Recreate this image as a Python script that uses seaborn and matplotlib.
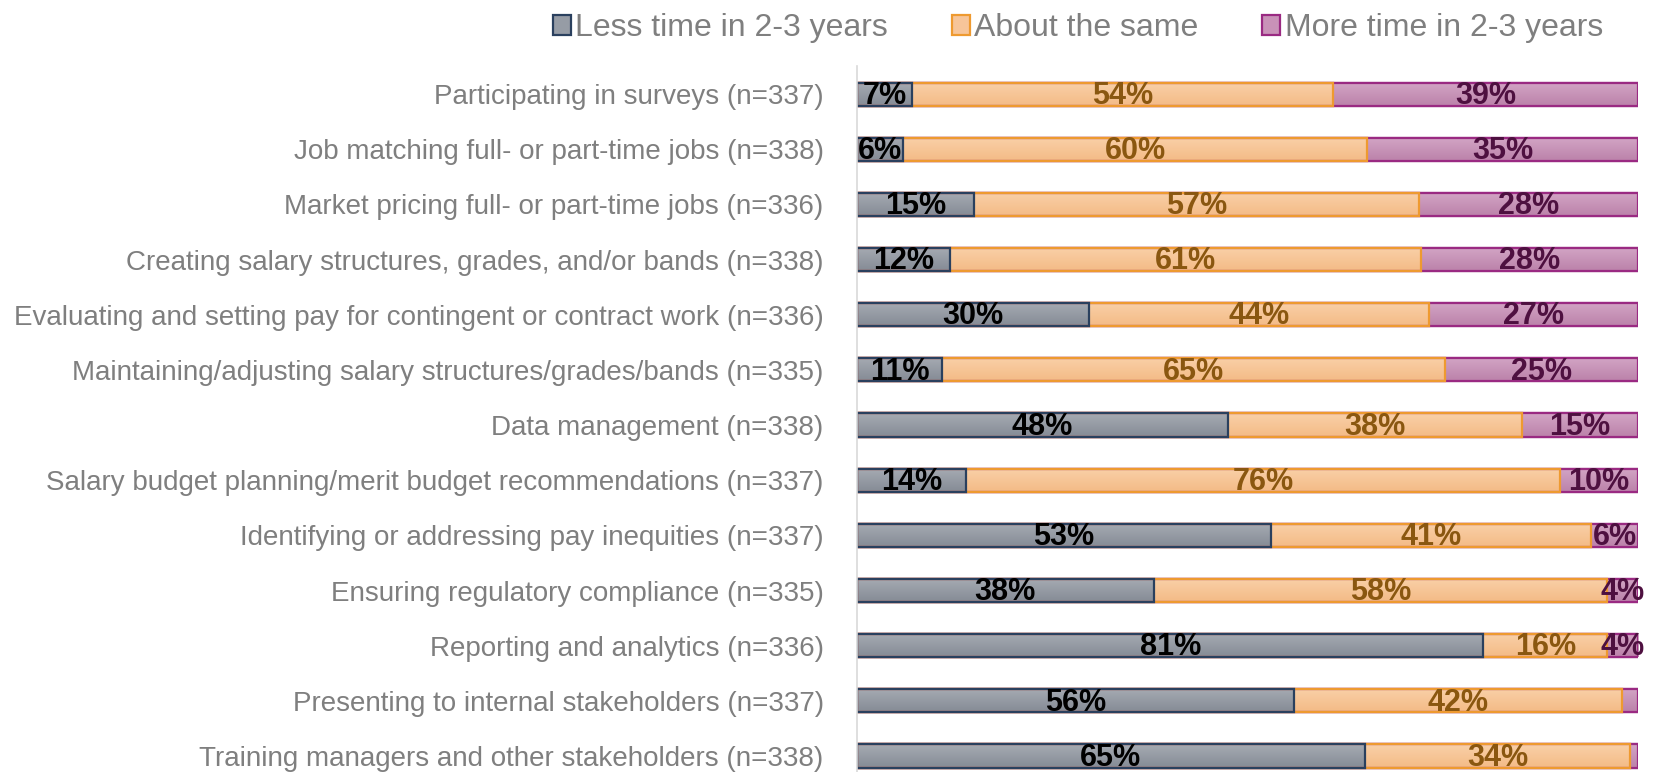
import pandas as pd
import numpy as np
import matplotlib.pyplot as plt
import seaborn as sns
from matplotlib.patches import Patch
from matplotlib.colors import LinearSegmentedColormap

tasks = [
    "Participating in surveys (n=337)",
    "Job matching full- or part-time jobs (n=338)",
    "Market pricing full- or part-time jobs (n=336)",
    "Creating salary structures, grades, and/or bands (n=338)",
    "Evaluating and setting pay for contingent or contract work (n=336)",
    "Maintaining/adjusting salary structures/grades/bands (n=335)",
    "Data management (n=338)",
    "Salary budget planning/merit budget recommendations (n=337)",
    "Identifying or addressing pay inequities (n=337)",
    "Ensuring regulatory compliance (n=335)",
    "Reporting and analytics (n=336)",
    "Presenting to internal stakeholders (n=337)",
    "Training managers and other stakeholders (n=338)",
]
less_time = [7, 6, 15, 12, 30, 11, 48, 14, 53, 38, 81, 56, 65]
same_time = [54, 60, 57, 61, 44, 65, 38, 76, 41, 58, 16, 42, 34]
more_time = [39, 35, 28, 28, 27, 25, 15, 10, 6, 4, 4, 2, 1]
series_names = ["Less time in 2-3 years", "About the same", "More time in 2-3 years"]

fills = ["#969ca5", "#f7c599", "#c992b8"]
grad_top = ["#a6abb3", "#f9d0a8", "#d3a5c5"]
grad_bottom = ["#858b95", "#f4bb86", "#bb82aa"]
edges = ["#2a405e", "#ee9a30", "#9a2a82"]
text_colors = ["#000000", "#8a5710", "#4e1040"]

df = pd.DataFrame({"task": tasks, "less": less_time, "same": same_time, "more": more_time})
total = df[["less", "same", "more"]].sum(axis=1)
for c in ["less", "same", "more"]:
    df[c + "_pct"] = df[c] / total * 100
df["cum1"] = df["less_pct"]
df["cum2"] = df["less_pct"] + df["same_pct"]
df["cum3"] = df["cum2"] + df["more_pct"]

sns.set_style("white")
plt.rcParams["font.family"] = ["Liberation Sans", "DejaVu Sans"]

fig = plt.figure(figsize=(16.56, 7.72), dpi=100)
ax = fig.add_axes([857 / 1656, 0, (1638 - 857) / 1656, (772 - 66) / 772])

# draw cumulative bars back to front so they look stacked
for col, i in [("cum3", 2), ("cum2", 1), ("cum1", 0)]:
    n_before = len(ax.patches)
    sns.barplot(data=df, x=col, y="task", orient="h", color=fills[i],
                edgecolor=edges[i], linewidth=1.6, width=0.42, saturation=1,
                ax=ax)
    # vertical gradient inside each bar, like the office-style fill
    cmap = LinearSegmentedColormap.from_list(f"g{i}", [grad_top[i], grad_bottom[i]])
    for p in ax.patches[n_before:]:
        x0, y0 = p.get_x(), p.get_y()
        w, h = p.get_width(), p.get_height()
        im = ax.imshow(np.linspace(0, 1, 64).reshape(-1, 1), cmap=cmap, aspect="auto",
                       extent=[x0, x0 + w, y0 + h, y0], origin="upper",
                       zorder=p.get_zorder() + 0.01, interpolation="bilinear")
        im.set_clip_path(p)
        edge = plt.Rectangle((x0, y0), w, h, fill=False, edgecolor=edges[i],
                             linewidth=1.6, zorder=p.get_zorder() + 0.02)
        ax.add_patch(edge)

# value labels
for idx, row in df.iterrows():
    starts = [0, row["cum1"], row["cum2"]]
    widths = [row["less_pct"], row["same_pct"], row["more_pct"]]
    vals = [row["less"], row["same"], row["more"]]
    for k in range(3):
        if vals[k] < 3:
            continue
        ax.text(starts[k] + widths[k] / 2, idx + 0.03, f"{vals[k]}%", ha="center", va="center",
                fontsize=22, fontweight="bold", color=text_colors[k], zorder=10)

ax.set_xlim(0, 100)
ax.set_ylim(12.29, -0.51)
ax.set_xlabel("")
ax.set_ylabel("")
ax.set_xticks([])
ax.tick_params(axis="y", length=0, pad=24, labelsize=20, labelcolor="#7f7f7f")
for s in ["top", "right", "bottom"]:
    ax.spines[s].set_visible(False)
ax.spines["left"].set_color("#d9d9d9")
ax.spines["left"].set_linewidth(1.2)

handles = [Patch(facecolor=fills[i], edgecolor=edges[i], linewidth=1.6) for i in range(3)]
fig.legend(handles, series_names, loc="upper center", bbox_to_anchor=(1078 / 1656, 1.02),
           ncol=3, frameon=False, fontsize=23, labelcolor="#7f7f7f",
           handlelength=0.55, handleheight=0.55, handletextpad=0.15, columnspacing=2.0)

fig.savefig("out.png", dpi=100)
